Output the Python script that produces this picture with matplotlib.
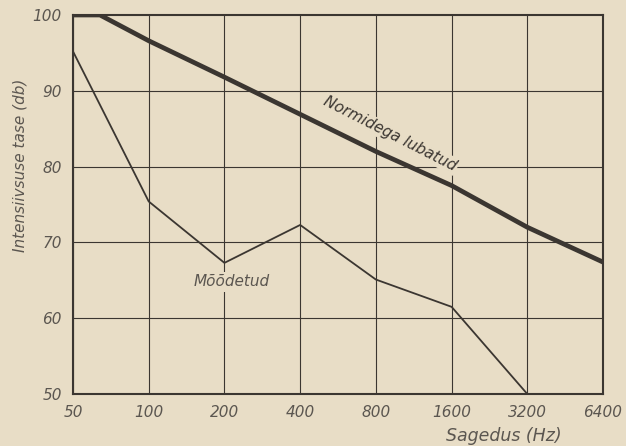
import matplotlib.pyplot as plt
import numpy as np

# Frequencies (Hz) and levels (dB)
freq_ticks = [50, 100, 200, 400, 800, 1600, 3200, 6400]
tick_labels = ['50', '100', '200', '400', '800', '1600', '3200', '6400']

norm_freq = [50, 64, 100, 200, 400, 800, 1600, 3200, 6400]
norm_level = [100, 100, 96.6, 91.8, 86.9, 82.0, 77.5, 72.0, 67.4]

meas_freq = [50, 100, 200, 400, 800, 1600, 3200]
meas_level = [95.2, 75.4, 67.3, 72.3, 65.1, 61.5, 50.0]

paper = '#e8ddc6'
ink = '#3b3631'
text_col = '#5b5650'

fig = plt.figure(figsize=(6.26, 4.46), dpi=100, facecolor=paper)
ax = fig.add_axes([0.1166, 0.1166, 0.8467, 0.8498], facecolor=paper)

ax.set_xscale('log', base=2)
ax.set_xlim(50, 6400)
ax.set_ylim(50, 100)

# grid
for f in freq_ticks:
    ax.axvline(f, color=ink, lw=0.8, zorder=1)
for v in range(60, 100, 10):
    ax.axhline(v, color=ink, lw=0.8, zorder=1)

ax.plot(norm_freq, norm_level, color=ink, lw=3.4, solid_capstyle='butt', zorder=3)
ax.plot(meas_freq, meas_level, color=ink, lw=1.3, zorder=3)

ax.set_xticks(freq_ticks)
ax.set_xticklabels(tick_labels)
ax.xaxis.set_minor_locator(plt.NullLocator())
ax.set_yticks([50, 60, 70, 80, 90, 100])
ax.tick_params(length=0, labelsize=11, labelcolor=text_col, pad=8)
for lab in ax.get_xticklabels() + ax.get_yticklabels():
    lab.set_style('italic')

for s in ax.spines.values():
    s.set_color(ink)
    s.set_linewidth(1.5)

ax.text(913, 84.3, 'Normidega lubatud', rotation=-27, ha='center', va='center',
        fontsize=11, style='italic', color=ink, zorder=4,
        bbox=dict(facecolor=paper, edgecolor='none', pad=1))
ax.text(214, 64.8, 'Mõõdetud', ha='center', va='center', fontsize=11,
        style='italic', color=text_col, zorder=4,
        bbox=dict(facecolor=paper, edgecolor='none', pad=2))

fig.text(0.032, 0.63, 'Intensiivsuse tase (db)', rotation=90, ha='center', va='center',
         fontsize=11, style='italic', color=text_col)
fig.text(0.805, 0.022, 'Sagedus (Hz)', ha='center', va='center',
         fontsize=12.5, style='italic', color=text_col)

fig.savefig('out.png', dpi=100, facecolor=paper)
